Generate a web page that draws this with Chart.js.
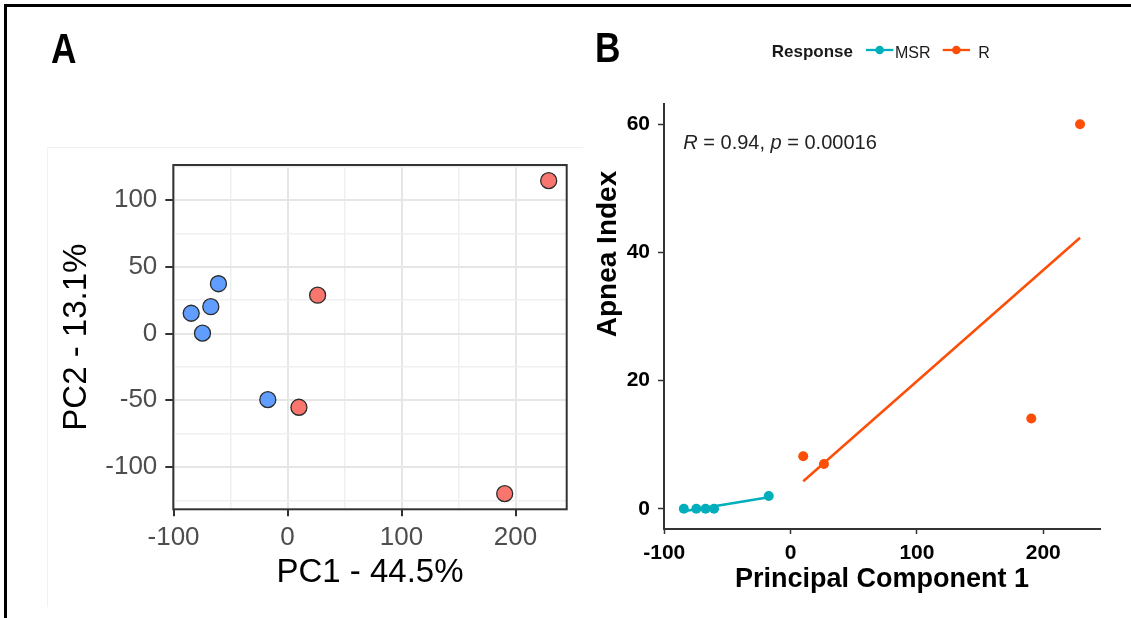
<!DOCTYPE html>
<html>
<head>
<meta charset="utf-8">
<script src="https://cdn.jsdelivr.net/npm/chart.js@4.4.1/dist/chart.umd.min.js"></script>
<style>
  html, body { margin: 0; padding: 0; background: #fff; }
  body { width: 1131px; height: 618px; position: relative; overflow: hidden; }
  canvas { position: absolute; top: 0; }
  #pca { left: 0; width: 590px; height: 618px; }
  #apnea { left: 590px; width: 541px; height: 618px; }
  .frame { position: absolute; left: 4px; top: 4px; width: 1200px; height: 700px;
           border-left: 3px solid #000; border-top: 3px solid #000; }
  .edge { position: absolute; background: #f1f1f1; }
</style>
</head>
<body>
<div class="edge" style="left:47px;top:147px;width:536px;height:1px"></div>
<div class="edge" style="left:47px;top:147px;width:1px;height:460px"></div>
<canvas id="pca" width="590" height="618"></canvas>
<canvas id="apnea" width="541" height="618"></canvas>
<div class="frame"></div>
<script>
const FONT = "'Liberation Sans', Arial, Helvetica, sans-serif";
Chart.defaults.font.family = FONT;

// Principal component scores and apnea index, grouped by response
const msrPC1   = [-84.5, -74.6, -67.3, -60.6, -17.3];
const msrPC2   = [15.2, 0.3, 20.1, 37.3, -49.5];
const msrApnea = [0, 0, 0, 0, 2.0];
const rPC1     = [10.0, 26.4, 190.5, 229.1];
const rPC2     = [-55.2, 28.7, -119.9, 114.5];
const rApnea   = [8.2, 7.0, 14.1, 60.0];

const groupNames = ['MSR', 'R'];

// Axis breaks
const pc1Ticks   = [-100, -50, 0, 50, 100, 150, 200];
const pc1Labels  = [-100, 0, 100, 200];
const pc2Ticks   = [-125, -100, -75, -50, -25, 0, 25, 50, 75, 100, 125];
const pc2Labels  = [-100, -50, 0, 50, 100];
const apneaTicks = [0, 20, 40, 60];

// Axis limits (data range plus 5% padding)
const pc1Limits   = [-100.2, 244.9];
const pc2Limits   = [-131.6, 126.2];
const apneaLimits = [-3.15, 63.15];

const pcaColors      = ['#619CFF', '#F8766D'];
const responseColors = ['#00AFBB', '#FC4E07'];

function toPoints(xs, ys) { return xs.map((x, i) => ({ x: x, y: ys[i] })); }

// Least-squares line over the range of x
function fitLine(xs, ys) {
  const n = xs.length;
  const mx = xs.reduce((a, b) => a + b, 0) / n;
  const my = ys.reduce((a, b) => a + b, 0) / n;
  let sxy = 0, sxx = 0;
  xs.forEach((x, i) => { sxy += (x - mx) * (ys[i] - my); sxx += (x - mx) * (x - mx); });
  const b = sxy / sxx, a = my - b * mx;
  const x0 = Math.min(...xs), x1 = Math.max(...xs);
  return [{ x: x0, y: a + b * x0 }, { x: x1, y: a + b * x1 }];
}

function setTicks(values) {
  return scale => { scale.ticks = values.map(v => ({ value: v })); };
}

function drawPanelLetter(ctx, letter, x, baseline) {
  ctx.save();
  ctx.fillStyle = '#000';
  ctx.font = 'bold 43px ' + FONT;
  ctx.textBaseline = 'alphabetic';
  ctx.textAlign = 'left';
  ctx.translate(x, baseline);
  ctx.scale(0.82, 1);
  ctx.fillText(letter, 0, 0);
  ctx.restore();
}

/* ---------- Panel A: PCA score plot ---------- */
const pcaDecor = {
  id: 'pcaDecor',
  afterDraw(chart) {
    const { ctx, chartArea: c } = chart;
    ctx.save();
    ctx.strokeStyle = '#333';
    ctx.lineWidth = 2;
    ctx.strokeRect(c.left, c.top, c.right - c.left, c.bottom - c.top);
    ctx.restore();
    drawPanelLetter(ctx, 'A', 51, 63.3);
  }
};

const isMajorX = v => pc1Labels.includes(v);
const isMajorY = v => pc2Labels.includes(v);

new Chart(document.getElementById('pca'), {
  type: 'scatter',
  data: {
    datasets: [
      { label: groupNames[0], data: toPoints(msrPC1, msrPC2),
        backgroundColor: pcaColors[0], borderColor: '#2b2b2b', borderWidth: 1.3,
        pointRadius: 8, pointHoverRadius: 8 },
      { label: groupNames[1], data: toPoints(rPC1, rPC2),
        backgroundColor: pcaColors[1], borderColor: '#2b2b2b', borderWidth: 1.3,
        pointRadius: 8, pointHoverRadius: 8 }
    ]
  },
  options: {
    responsive: false, animation: false, events: [], devicePixelRatio: 1,
    layout: { padding: { left: 0, top: 165, right: 23.3, bottom: 0 } },
    plugins: { legend: { display: false }, tooltip: { enabled: false } },
    scales: {
      x: {
        type: 'linear', min: pc1Limits[0], max: pc1Limits[1],
        afterBuildTicks: setTicks(pc1Ticks),
        afterFit: s => { s.height = 618 - 509.3; },
        border: { display: false },
        grid: {
          color: c => isMajorX(c.tick.value) ? '#e6e6e6' : '#efefef',
          lineWidth: c => isMajorX(c.tick.value) ? 2 : 1.5,
          tickLength: 7, tickWidth: 2,
          tickColor: c => isMajorX(c.tick.value) ? '#333' : 'rgba(0,0,0,0)'
        },
        ticks: {
          autoSkip: false, maxRotation: 0, padding: 6,
          color: '#4d4d4d', font: { size: 26 },
          callback: v => isMajorX(v) ? String(v) : ''
        },
        title: { display: true, text: 'PC1 - 44.5%', color: '#000',
                 font: { size: 33, lineHeight: 1 }, padding: { top: 0, bottom: 29 } }
      },
      y: {
        type: 'linear', min: pc2Limits[0], max: pc2Limits[1],
        afterBuildTicks: setTicks(pc2Ticks),
        afterFit: s => { s.width = 173.3; },
        border: { display: false },
        grid: {
          color: c => isMajorY(c.tick.value) ? '#e6e6e6' : '#efefef',
          lineWidth: c => isMajorY(c.tick.value) ? 2 : 1.5,
          tickLength: 8, tickWidth: 2,
          tickColor: c => isMajorY(c.tick.value) ? '#333' : 'rgba(0,0,0,0)'
        },
        ticks: {
          autoSkip: false, padding: 8,
          color: '#4d4d4d', font: { size: 26 },
          callback: v => isMajorY(v) ? String(v) : ''
        },
        title: { display: true, text: 'PC2 - 13.1%', color: '#000',
                 font: { size: 33, lineHeight: 1 }, padding: { top: 60.5, bottom: 0 } }
      }
    }
  },
  plugins: [pcaDecor]
});

/* ---------- Panel B: apnea index vs principal component 1 ---------- */
const apneaDecor = {
  id: 'apneaDecor',
  afterDraw(chart) {
    const ctx = chart.ctx;
    drawPanelLetter(ctx, 'B', 5, 61.7);

    ctx.save();
    // y axis title
    ctx.save();
    ctx.translate(18, 254);
    ctx.rotate(-Math.PI / 2);
    ctx.fillStyle = '#000';
    ctx.font = 'bold 28px ' + FONT;
    ctx.textAlign = 'center';
    ctx.textBaseline = 'middle';
    ctx.fillText('Apnea Index', 0, 0);
    ctx.restore();

    // legend
    ctx.fillStyle = '#1a1a1a';
    ctx.font = 'bold 17px ' + FONT;
    ctx.textAlign = 'left';
    ctx.textBaseline = 'middle';
    ctx.fillText('Response', 181.7, 52.5);
    const keys = [{ x0: 276, x1: 303.3, tx: 305 }, { x0: 352.7, x1: 380, tx: 388.3 }];
    keys.forEach((k, i) => {
      ctx.strokeStyle = responseColors[i];
      ctx.fillStyle = responseColors[i];
      ctx.lineWidth = 2.3;
      ctx.beginPath(); ctx.moveTo(k.x0, 50); ctx.lineTo(k.x1, 50); ctx.stroke();
      ctx.beginPath(); ctx.arc((k.x0 + k.x1) / 2, 50, 4.3, 0, Math.PI * 2); ctx.fill();
      ctx.fillStyle = '#1a1a1a';
      ctx.font = '16px ' + FONT;
      ctx.fillText(groupNames[i], k.tx, 54);
    });

    // correlation annotation
    ctx.fillStyle = '#222';
    const y = 143.3;
    let x = 93.3;
    const parts = [['R', true], [' = 0.94, ', false], ['p', true], [' = 0.00016', false]];
    parts.forEach(([t, it]) => {
      ctx.font = (it ? 'italic ' : '') + '20px ' + FONT;
      ctx.fillText(t, x, y);
      x += ctx.measureText(t).width;
    });
    ctx.restore();
  }
};

new Chart(document.getElementById('apnea'), {
  type: 'scatter',
  data: {
    datasets: [
      { label: groupNames[0], data: toPoints(msrPC1, msrApnea), order: 0,
        backgroundColor: responseColors[0], borderWidth: 0, pointRadius: 5, pointHoverRadius: 5 },
      { label: groupNames[1], data: toPoints(rPC1, rApnea), order: 0,
        backgroundColor: responseColors[1], borderWidth: 0, pointRadius: 5, pointHoverRadius: 5 },
      { label: groupNames[0] + ' fit', data: fitLine(msrPC1, msrApnea), order: 1,
        showLine: true, borderColor: responseColors[0], borderWidth: 2.5, pointRadius: 0, fill: false },
      { label: groupNames[1] + ' fit', data: fitLine(rPC1, rApnea), order: 1,
        showLine: true, borderColor: responseColors[1], borderWidth: 2.5, pointRadius: 0, fill: false }
    ]
  },
  options: {
    responsive: false, animation: false, events: [], devicePixelRatio: 1,
    layout: { padding: { left: 0, top: 104, right: 31, bottom: 0 } },
    plugins: { legend: { display: false }, tooltip: { enabled: false } },
    scales: {
      x: {
        type: 'linear', min: pc1Limits[0], max: pc1Limits[1],
        afterBuildTicks: setTicks(pc1Labels),
        afterFit: s => { s.height = 618 - 529; },
        border: { display: true, color: '#333', width: 2 },
        grid: { drawOnChartArea: false, tickLength: 5, tickWidth: 1.5, tickColor: '#333' },
        ticks: { autoSkip: false, maxRotation: 0, padding: 7, color: '#000',
                 font: { size: 21, weight: 'bold' }, callback: v => String(v) },
        title: { display: true, text: 'Principal Component 1', color: '#000',
                 font: { size: 27, weight: 'bold', lineHeight: 1 }, padding: { top: 0, bottom: 25 } }
      },
      y: {
        type: 'linear', min: apneaLimits[0], max: apneaLimits[1],
        afterBuildTicks: setTicks(apneaTicks),
        afterFit: s => { s.width = 74; },
        border: { display: true, color: '#333', width: 2 },
        grid: { drawOnChartArea: false, tickLength: 6, tickWidth: 1.5, tickColor: '#333' },
        ticks: { autoSkip: false, padding: 8, color: '#000',
                 font: { size: 21, weight: 'bold' }, callback: v => String(v) },
        title: { display: false }
      }
    }
  },
  plugins: [apneaDecor]
});
</script>
</body>
</html>
